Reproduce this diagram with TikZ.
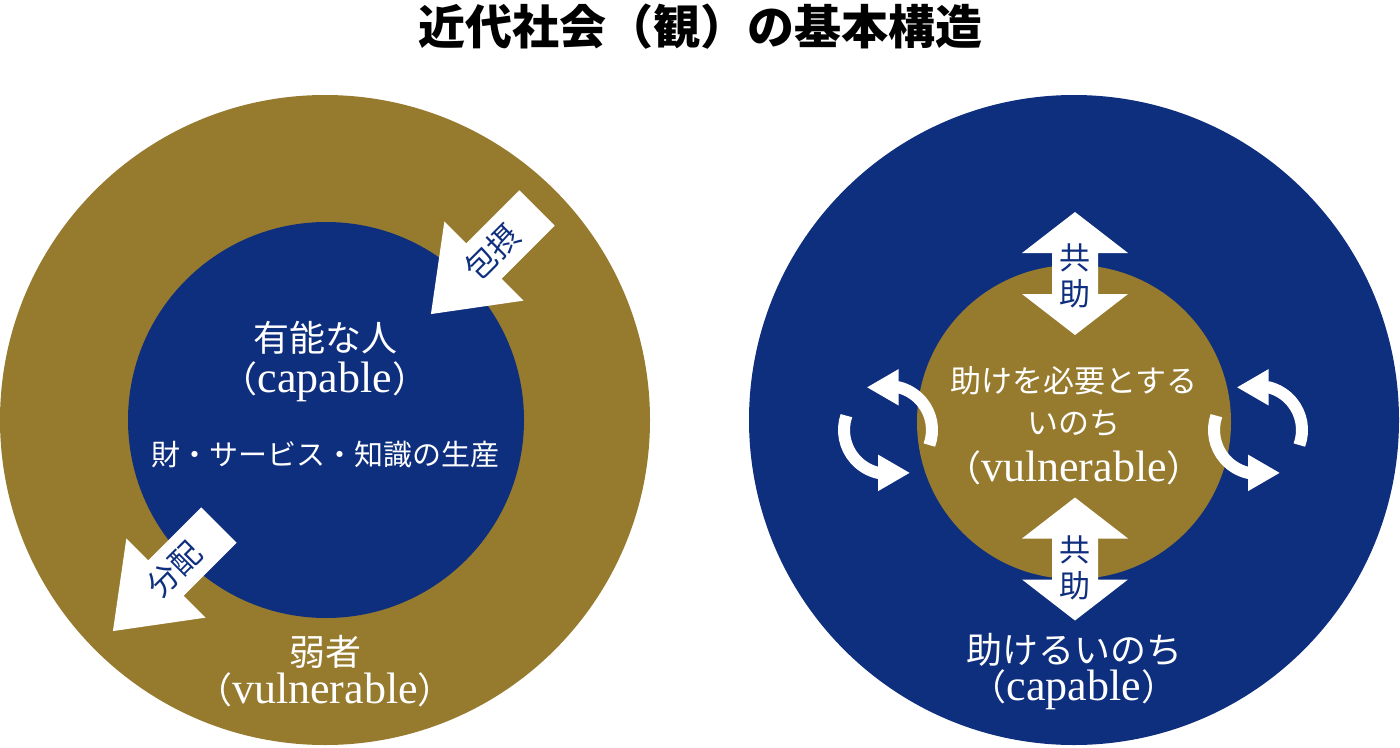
\documentclass[tikz,border=0pt]{standalone}
\usepackage{fontspec}
\setmainfont{Liberation Serif}
\newfontfamily\jp{Noto Sans CJK JP}
\usetikzlibrary{arrows.meta}
\definecolor{kin}{RGB}{150,123,47}
\definecolor{kon}{RGB}{14,46,126}
\tikzset{
  txt/.style={text=white, inner sep=0pt},
  lbl/.style={text=kon, inner sep=0pt, font=\jp\fontsize{31}{36}\selectfont},
  turn/.style={white, line width=12pt, -{Triangle[width=34pt,length=32pt]}},
}
\newcommand{\fs}[1]{\fontsize{#1}{#1}\selectfont}
\newcommand{\paren}[1]{{\jp\fs{36}（}{\fs{44}#1}{\jp\fs{36}）}}

\begin{document}
\begin{tikzpicture}[x=1pt,y=1pt]
\useasboundingbox (0,0) rectangle (1400,-747);
\node (title) at (700,-27) {\jp\bfseries\fs{47}近代社会（観）の基本構造};

% left: society of the capable
\fill[kin] (325,-420) circle (325);
\fill[kon] (326,-420) circle (198);
\foreach \tx/\ty/\word/\nm in {537/-208/包摂/hosetsu, 219/-525/分配/bunpai} {
  \begin{scope}[shift={(\tx,\ty)}, rotate=225]
    \fill[white] (0,25) -- (75,25) -- (75,56) -- (150,0) -- (75,-56) -- (75,-25) -- (0,-25) -- cycle;
    \node[lbl, rotate=45] (\nm) at (63,0) {\word};
  \end{scope}
}
\node[txt] (yuno) at (325,-338) {\jp\fs{36}有能な人};
\node[txt] (cap1) at (325,-382) {\paren{capable}};
\node[txt] (seisan) at (325,-455) {\jp\fs{29}財・サービス・知識の生産};
\node[txt] (jakusha) at (325,-652) {\jp\fs{36}弱者};
\node[txt] (vul1) at (325,-690) {\paren{vulnerable}};

% right: society of the vulnerable
\fill[kon] (1074,-420) circle (325);
\fill[kin] (1074,-422) circle (157);
\foreach \y/\dy/\nm in {-273.5/-2/kyojo1, -559/-9/kyojo2} {
  \fill[white] (1075,\y) ++(0,61.5) -- ++(53,-41) -- ++(-30,0) -- ++(0,-41) -- ++(30,0)
    -- ++(-53,-41) -- ++(-53,41) -- ++(30,0) -- ++(0,41) -- ++(-30,0) -- cycle;
  \node[lbl, align=center] (\nm) at (1075,\y+\dy) {共\\助};
}
\foreach \cx in {888, 1258} {
  \draw[turn] (\cx,-430) ++(-20:44) arc[start angle=-20, end angle=76, radius=44] -- ++(180:32);
  \draw[turn] (\cx,-430) ++(161:44) arc[start angle=161, end angle=257, radius=44] -- ++(0:32);
}
\node[txt] (hitsuyo) at (1074,-381) {\jp\fs{31}助けを必要とする};
\node[txt] (inochi) at (1074,-423) {\jp\fs{31}いのち};
\node[txt] (vul2) at (1074,-468) {\paren{vulnerable}};
\node[txt] (tasukeru) at (1074,-650) {\jp\fs{36}助けるいのち};
\node[txt] (cap2) at (1074,-690) {\paren{capable}};
\end{tikzpicture}
\end{document}
